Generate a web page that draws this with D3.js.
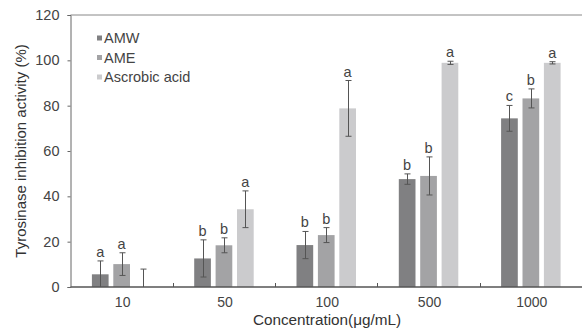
<!DOCTYPE html>
<html>
<head>
<meta charset="utf-8">
<script src="https://cdn.jsdelivr.net/npm/d3@7"></script>
<style>
  body { margin: 0; background: #fff; }
  text { font-family: Arial, "Liberation Sans", sans-serif; }
</style>
</head>
<body>
<div id="chart"></div>
<script>
const concentrations = ['10', '50', '100', '500', '1000'];
const series = ['AMW', 'AME', 'Ascrobic acid'];
const colors = ['#808082', '#a3a3a5', '#cbcbcd'];

// mean values and standard deviations, one array per series
const amw = [5.6, 12.6, 18.5, 47.6, 74.4];
const amwErr = [5.9, 8.2, 6.0, 2.3, 5.7];
const ame = [10.1, 18.4, 22.9, 49.0, 83.2];
const ameErr = [5.0, 3.3, 3.3, 8.4, 4.2];
const asc = [0, 34.3, 78.8, 98.9, 98.9];
const ascErr = [7.9, 8.1, 12.3, 0.7, 0.5];

// significance letters
const amwLetters = ['a', 'b', 'b', 'b', 'c'];
const ameLetters = ['a', 'b', 'b', 'b', 'b'];
const ascLetters = ['', 'a', 'a', 'a', 'a'];

const yTicks = [0, 20, 40, 60, 80, 100, 120];

const values = [amw, ame, asc];
const errors = [amwErr, ameErr, ascErr];
const letters = [amwLetters, ameLetters, ascLetters];

const data = [];
concentrations.forEach((c, i) => {
  series.forEach((s, j) => {
    data.push({ conc: c, series: s, idx: j, value: values[j][i], err: errors[j][i], letter: letters[j][i] });
  });
});

const width = 582;
const height = 328;
const margin = { top: 15, right: 0, bottom: 41, left: 70.5 };

const svg = d3.select('#chart')
  .append('svg')
    .attr('width', width)
    .attr('height', height);

const x0 = d3.scaleBand()
  .domain(concentrations)
  .range([margin.left, width]);

const x1 = d3.scaleBand()
  .domain(series)
  .range([0, x0.bandwidth()])
  .paddingInner(0.22)
  .paddingOuter(1.0);

const y = d3.scaleLinear()
  .domain([0, 120])
  .range([height - margin.bottom, margin.top]);

// frame top line
svg.append('line')
  .attr('x1', margin.left).attr('x2', width)
  .attr('y1', y(120)).attr('y2', y(120))
  .attr('stroke', '#888').attr('stroke-width', 1);

// bars
svg.append('g')
  .selectAll('rect')
  .data(data)
  .enter()
  .append('rect')
    .attr('x', d => x0(d.conc) + x1(d.series))
    .attr('y', d => y(d.value))
    .attr('width', x1.bandwidth())
    .attr('height', d => y(0) - y(d.value))
    .attr('fill', d => colors[d.idx]);

// error bars
const eb = svg.append('g')
  .attr('stroke', '#555')
  .attr('stroke-width', 1);

data.forEach(d => {
  const cx = Math.round(x0(d.conc) + x1(d.series) + x1.bandwidth() / 2) + 0.5;
  const top = y(d.value + d.err);
  const bot = y(Math.max(0, d.value - d.err));
  eb.append('line').attr('x1', cx).attr('x2', cx).attr('y1', top).attr('y2', bot);
  eb.append('line').attr('x1', cx - 3).attr('x2', cx + 3).attr('y1', top).attr('y2', top);
  if (d.value - d.err > 0) {
    eb.append('line').attr('x1', cx - 3).attr('x2', cx + 3).attr('y1', bot).attr('y2', bot);
  }
});

// letters
svg.append('g')
  .selectAll('text')
  .data(data.filter(d => d.letter))
  .enter()
  .append('text')
    .attr('x', d => x0(d.conc) + x1(d.series) + x1.bandwidth() / 2)
    .attr('y', d => y(d.value + d.err) - 4)
    .attr('text-anchor', 'middle')
    .attr('font-size', 14.5)
    .attr('fill', '#444')
    .text(d => d.letter);

// x axis
const axisX = svg.append('g')
  .attr('transform', `translate(0, ${y(0)})`);

axisX.append('line')
  .attr('x1', margin.left).attr('x2', width)
  .attr('y1', 0).attr('y2', 0)
  .attr('stroke', '#555').attr('stroke-width', 1.5);

axisX.selectAll('.sep')
  .data(concentrations.slice(1))
  .enter()
  .append('line')
    .attr('x1', d => Math.round(x0(d)) + 0.5)
    .attr('x2', d => Math.round(x0(d)) + 0.5)
    .attr('y1', 0).attr('y2', -4)
    .attr('stroke', '#555');

axisX.selectAll('.lbl')
  .data(concentrations)
  .enter()
  .append('text')
    .attr('x', d => x0(d) + x0.bandwidth() / 2 + 1)
    .attr('y', 20)
    .attr('text-anchor', 'middle')
    .attr('font-size', 14)
    .attr('fill', '#444')
    .text(d => d);

// y axis
const axisY = d3.axisLeft(y)
  .tickValues(yTicks)
  .tickSize(3)
  .tickPadding(8);

const gy = svg.append('g')
  .attr('transform', `translate(${margin.left}, 0)`)
  .call(axisY);

gy.select('.domain').attr('stroke', '#666');
gy.selectAll('.tick line').attr('stroke', '#666');
gy.selectAll('.tick text')
  .attr('font-size', 14.5)
  .attr('font-family', 'Arial, "Liberation Sans", sans-serif')
  .attr('fill', '#444');

// axis titles
svg.append('text')
  .attr('x', 327)
  .attr('y', 325)
  .attr('text-anchor', 'middle')
  .attr('font-size', 15.3)
  .attr('fill', '#333')
  .text('Concentration(μg/mL)');

svg.append('text')
  .attr('transform', `translate(26, ${(y(0) + y(120)) / 2}) rotate(-90)`)
  .attr('text-anchor', 'middle')
  .attr('font-size', 15)
  .attr('fill', '#333')
  .text('Tyrosinase inhibition activity (%)');

// legend
const legend = svg.append('g')
  .attr('transform', 'translate(97, 38)');

series.forEach((s, j) => {
  const g = legend.append('g').attr('transform', `translate(0, ${j * 19.5})`);
  g.append('rect')
    .attr('x', 0).attr('y', -2.5)
    .attr('width', 5).attr('height', 5)
    .attr('fill', colors[j]);
  g.append('text')
    .attr('x', 7)
    .attr('y', 5)
    .attr('font-size', 14.5)
    .attr('fill', '#444')
    .text(s);
});
</script>
</body>
</html>
